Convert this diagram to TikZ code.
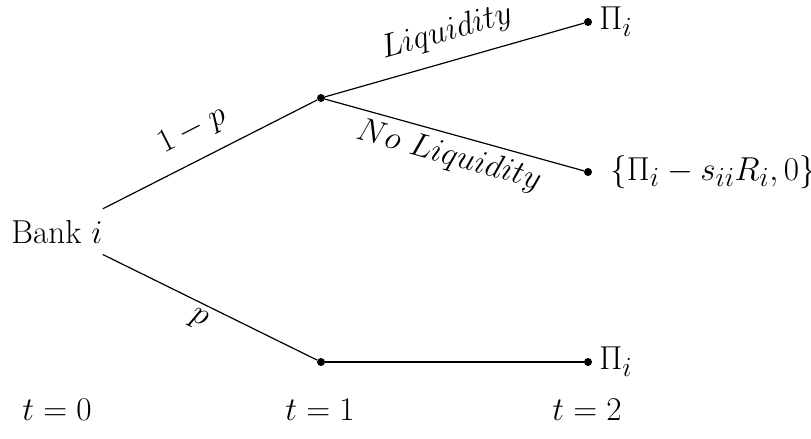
\documentclass[tikz,border=0pt]{standalone}
\begin{document}
\begin{tikzpicture}[x=0.75pt,y=-0.75pt,
  every node/.style={font=\fontsize{24.88}{30}\selectfont},
  branch/.style={line width=0.9pt},
  dotnode/.style={circle,fill=black,inner sep=0pt,minimum size=6pt},
  banknode/.style={rectangle,inner xsep=0pt,minimum height=42pt},
  lab/.style={sloped},
  endlab/.style={anchor=west,inner sep=0pt}]
\useasboundingbox (0,0) rectangle (811,439);
\node[banknode] (bank) at (57,232) {Bank $i$};
\node[dotnode] (u) at (321,98) {};
\node[dotnode] (d) at (321,362) {};
\node[dotnode] (e1) at (588,22) {};
\node[dotnode] (e2) at (588,172) {};
\node[dotnode] (e3) at (588,362) {};
\draw[branch] (bank) -- node[lab,above,pos=0.48,inner sep=11pt] {$1-p$} (u);
\draw[branch] (bank) -- node[lab,below,pos=0.48,inner sep=4pt] {$p$} (d);
\draw[branch] (u) -- node[lab,above,pos=0.5,inner sep=10pt] {$Liquidity$} (e1);
\draw[branch] (u) -- node[lab,below,pos=0.5,inner sep=5pt] {$No\ Liquidity$} (e2);
\draw[branch] (d) -- (e3);
\node[endlab] (pi1) at (599,22) {$\Pi_i$};
\node[endlab] (set) at (610,172) {$\{\Pi_i-s_{ii}R_i,0\}$};
\node[endlab] (pi3) at (599,362) {$\Pi_i$};
\node (t0) at (57,410) {$t=0$};
\node (t1) at (320,410) {$t=1$};
\node (t2) at (587,410) {$t=2$};
\end{tikzpicture}
\end{document}
